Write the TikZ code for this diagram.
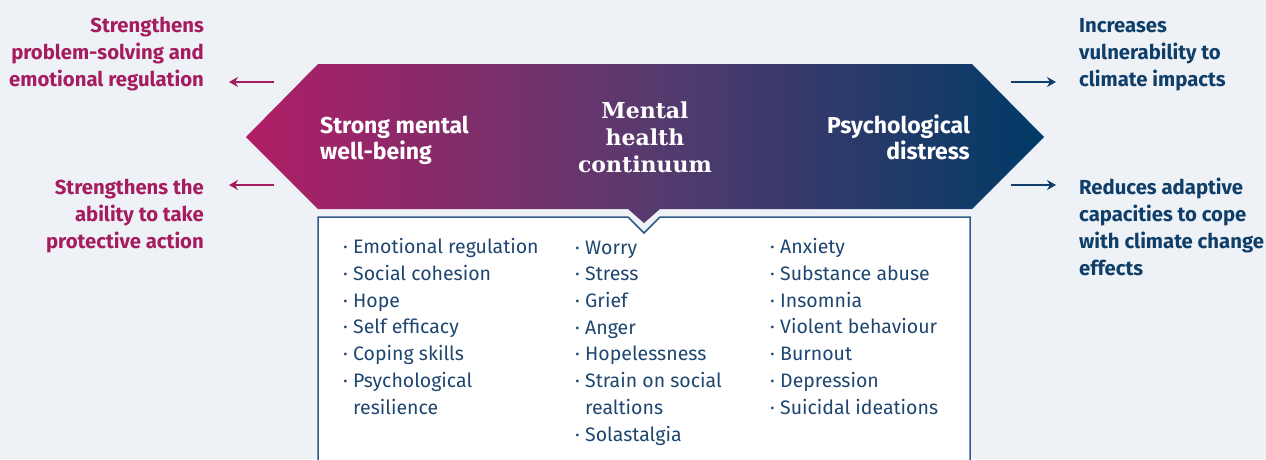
\documentclass[tikz,border=0pt]{standalone}
\usepackage{fontspec}
\setmainfont{Fira Sans}
\newfontfamily\slabfont{DejaVu Serif}
\usetikzlibrary{arrows.meta}

\definecolor{bgcol}{HTML}{EEF2F7}
\definecolor{magcol}{HTML}{A51C5F}
\definecolor{tipmag}{HTML}{B01E66}
\definecolor{navycol}{HTML}{003A66}
\definecolor{txtnavy}{HTML}{0F3E68}
\definecolor{boxline}{HTML}{2F5B86}
\definecolor{listcol}{HTML}{1E4670}

\newcommand\itm{\makebox[10pt][l]{·}}
\newcommand\cnt{\hspace*{10pt}}

\tikzset{
  sidelbl/.style={inner sep=0pt, font=\bfseries\fontsize{20.3}{27}\selectfont},
  leftlbl/.style={sidelbl, align=right, anchor=base east, text=magcol},
  rightlbl/.style={sidelbl, align=left, anchor=base west, text=txtnavy},
  headlbl/.style={inner sep=0pt, text=white, font=\bfseries\fontsize{23}{26}\selectfont},
  slablbl/.style={inner sep=0pt, text=white, align=center, anchor=base,
    font=\slabfont\bfseries\fontsize{22}{27}\selectfont},
  listcolumn/.style={inner sep=0pt, align=left, anchor=base west, text=listcol,
    font=\fontsize{19.5}{26.7}\selectfont},
  magarrow/.style={draw=magcol, line width=2.6pt, -{Stealth[length=9pt,width=10pt]}},
  navyarrow/.style={draw=txtnavy, line width=2.6pt, -{Stealth[length=9pt,width=10pt]}},
}

\begin{document}
\begin{tikzpicture}[x=1pt,y=-1pt]
  \useasboundingbox (0,0) rectangle (1266,459);
  \fill[bgcol] (0,0) rectangle (1266,459);

  \begin{scope}
    \clip (0,0) rectangle (1266,459);
    % list panel with a small notch under the banner
    \path[fill=white, draw=boxline, line width=1.5pt]
      (318,217) -- (628,217) -- (644,233) -- (660,217) -- (970,217)
      -- (970,470) -- (318,470) -- cycle;
  \end{scope}

  % double-headed banner, magenta to navy
  \shade[left color=tipmag, right color=navycol, middle color={rgb,255:red,88;green,58;blue,110}]
    (246,137) -- (318,64) -- (972,64) -- (1044,137) -- (972,209)
    -- (660,209) -- (644,223) -- (628,209) -- (318,209) -- cycle;

  % banner labels (base anchor = baseline of the last line)
  \node[headlbl, align=left, anchor=base west] (strong) at (320,159)
    {Strong mental\\well-being};
  \node[slablbl] (continuum) at (645,172) {Mental\\health\\continuum};
  \node[headlbl, align=right, anchor=base east] (distress) at (970,159)
    {Psychological\\distress};

  % list columns
  \node[listcolumn] (wellbeing) at (343,414)
    {\itm Emotional regulation\\\itm Social cohesion\\\itm Hope\\\itm Self efficacy\\
     \itm Coping skills\\\itm Psychological\\\cnt resilience};
  \node[listcolumn] (middle) at (575,441)
    {\itm Worry\\\itm Stress\\\itm Grief\\\itm Anger\\\itm Hopelessness\\
     \itm Strain on social\\\cnt realtions\\\itm Solastalgia};
  \node[listcolumn] (distresslist) at (770,414)
    {\itm Anxiety\\\itm Substance abuse\\\itm Insomnia\\\itm Violent behaviour\\
     \itm Burnout\\\itm Depression\\\itm Suicidal ideations};

  % outcome labels
  \node[leftlbl] (solving) at (204,86)
    {Strengthens\\problem-solving and\\emotional regulation};
  \node[leftlbl] (protect) at (204,248)
    {Strengthens the\\ability to take\\protective action};
  \node[rightlbl] (vulner) at (1079,86)
    {Increases\\vulnerability to\\climate impacts};
  \node[rightlbl] (adaptive) at (1079,275)
    {Reduces adaptive\\capacities to cope\\with climate change\\effects};

  % arrows towards the outcomes
  \coordinate (la1s) at (274,82);  \coordinate (la1e) at (229,82);
  \coordinate (la2s) at (274,185); \coordinate (la2e) at (229,185);
  \coordinate (ra1s) at (1011,82);  \coordinate (ra1e) at (1056,82);
  \coordinate (ra2s) at (1011,185); \coordinate (ra2e) at (1056,185);
  \draw[magarrow] (la1s) -- (la1e);
  \draw[magarrow] (la2s) -- (la2e);
  \draw[navyarrow] (ra1s) -- (ra1e);
  \draw[navyarrow] (ra2s) -- (ra2e);
\end{tikzpicture}
\end{document}
